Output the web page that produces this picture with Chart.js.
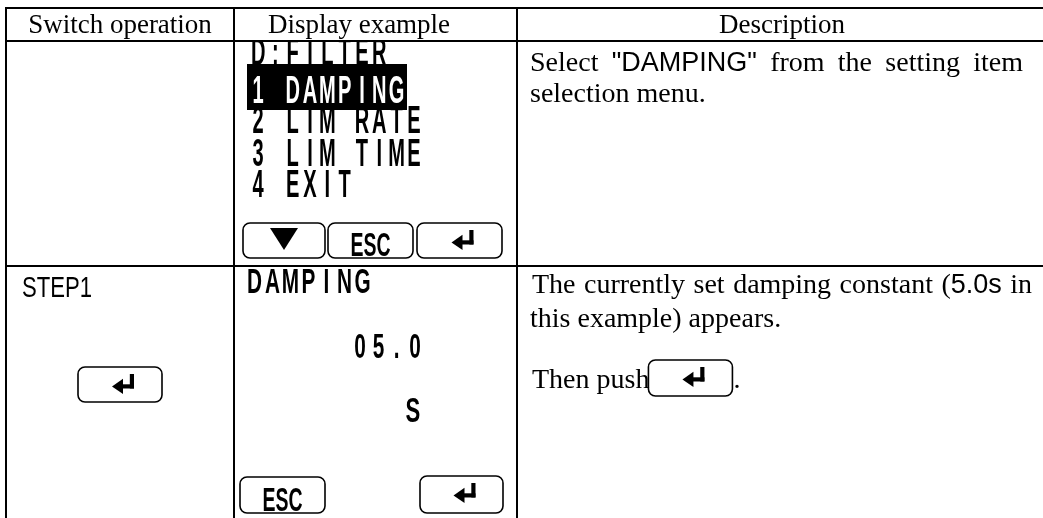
<!DOCTYPE html>
<html>
<head>
<meta charset="utf-8">
<title>DAMPING setting</title>
<script src="https://cdn.jsdelivr.net/npm/chart.js@4.4.0/dist/chart.umd.min.js"></script>
<style>
  html, body { margin: 0; padding: 0; background: #fff; overflow: hidden; }
  canvas { display: block; }
</style>
</head>
<body>
<canvas id="sheet" width="1043" height="518"></canvas>
<script>
/* ── table content ─────────────────────────────────────────────── */
const headers = ["Switch operation", "Display example", "Description"];

// row 1 : setting item menu
const menuLines = ["D:FILTER", "1 DAMPING", "2 LIM RATE", "3 LIM TIME", "4 EXIT"];
const menuSelected = 1;
const menuKeys = ["down", "ESC", "enter"];
const row1Desc = ['Select |"DAMPING"| from the setting item', "selection menu."];

// row 2 : STEP1
const step1Label = "STEP1";
const step1Display = ["DAMPING", "05.0", "S"];
const step1Keys = ["ESC", "enter"];
const row2Desc = ["The currently set damping constant (|5.0s| in", "this example) appears.", "Then push"];

/* ── fonts ─────────────────────────────────────────────────────── */
const SERIF = '"Liberation Serif", "Times New Roman", serif';
const SANS = '"Liberation Sans", Arial, sans-serif';
const LCD = '"Liberation Sans", Arial, sans-serif';

let X = v => v, Y = v => v;

function fitText(ctx, str, x, base, w, font, align) {
    ctx.save();
    ctx.font = font;
    const nat = ctx.measureText(str).width;
    const left = align === "center" ? x - w / 2 : x;
    ctx.translate(X(left), Y(base));
    ctx.scale(w / nat, 1);
    ctx.fillText(str, 0, 0);
    ctx.restore();
}

// monospaced LCD style characters, each squeezed to glyph width gw
function lcdText(ctx, str, x, base, pitch, size, gw, color) {
    ctx.save();
    ctx.font = `bold ${size}px ${LCD}`;
    ctx.fillStyle = color || "#000";
    const sx = gw / ctx.measureText("D").width;
    [...str].forEach((ch, i) => {
        if (ch === " ") return;
        const w = ctx.measureText(ch).width * sx;
        const cx = x + i * pitch + pitch / 2;
        ctx.save();
        ctx.translate(X(cx - w / 2), Y(base));
        ctx.scale(sx, 1);
        ctx.fillText(ch, 0, 0);
        ctx.restore();
    });
    ctx.restore();
}

// words in |bars| are set in the sans face, the rest in serif
function richLine(ctx, markup, x, base, justifyTo) {
    const serifFont = `28px ${SERIF}`, sansFont = `27px ${SANS}`;
    const words = markup.split(" ").map(w =>
        w.split("|").map((seg, i) => ({ seg, font: i % 2 ? sansFont : serifFont })).filter(p => p.seg));
    const widths = words.map(parts => parts.reduce((a, p) => {
        ctx.font = p.font;
        return a + ctx.measureText(p.seg).width;
    }, 0));
    ctx.font = serifFont;
    let gap = ctx.measureText(" ").width;
    if (justifyTo) gap = (justifyTo - x - widths.reduce((a, b) => a + b, 0)) / (words.length - 1);
    let cx = x;
    words.forEach(parts => {
        parts.forEach(p => {
            ctx.font = p.font;
            ctx.fillText(p.seg, X(cx), Y(base));
            cx += ctx.measureText(p.seg).width;
        });
        cx += gap;
    });
    return cx - gap;
}

function keyBox(ctx, x, y, w, h) {
    ctx.save();
    ctx.lineWidth = 1.6;
    ctx.strokeStyle = "#000";
    ctx.beginPath();
    ctx.roundRect(X(x), Y(y), w, h, 7);
    ctx.stroke();
    ctx.restore();
}

function enterIcon(ctx, x, y, w, h) {
    const t = Math.max(3.5, w * 0.19);
    const cy = y + h * 0.62;
    ctx.fillRect(X(x + w - t), Y(y), t, cy + t / 2 - y);
    ctx.fillRect(X(x + w * 0.42), Y(cy - t / 2), w * 0.58, t);
    ctx.beginPath();
    ctx.moveTo(X(x), Y(cy));
    ctx.lineTo(X(x + w * 0.5), Y(cy - h * 0.38));
    ctx.lineTo(X(x + w * 0.5), Y(cy + h * 0.38));
    ctx.closePath();
    ctx.fill();
}

function drawKey(ctx, key, x, y, w, h) {
    keyBox(ctx, x, y, w, h);
    if (key === "enter") {
        enterIcon(ctx, x + w / 2 - 8, y + 7, 22, 20);
    } else if (key === "down") {
        ctx.beginPath();
        ctx.moveTo(X(x + w / 2 - 14), Y(y + 5));
        ctx.lineTo(X(x + w / 2 + 14), Y(y + 5));
        ctx.lineTo(X(x + w / 2), Y(y + 27));
        ctx.closePath();
        ctx.fill();
    } else {
        fitText(ctx, key, x + w / 2, y + h - 2, 40, `bold 33px ${LCD}`, "center");
    }
}

const tablePlugin = {
    id: "manualTable",
    afterDraw(chart) {
        const ctx = chart.ctx;
        const xs = chart.scales.x, ys = chart.scales.y;
        X = v => xs.getPixelForValue(v);
        Y = v => ys.getPixelForValue(v);

        ctx.save();
        ctx.fillStyle = "#fff";
        ctx.fillRect(0, 0, chart.width, chart.height);
        ctx.fillStyle = "#000";
        ctx.textBaseline = "alphabetic";
        ctx.textAlign = "left";

        // header
        ctx.font = `27px ${SERIF}`;
        ctx.textAlign = "center";
        [120, 359, 782].forEach((cx, i) => ctx.fillText(headers[i], X(cx), Y(33)));
        ctx.textAlign = "left";

        // row 1 display: setting menu
        ctx.save();
        ctx.beginPath();
        ctx.rect(X(235), Y(42), 281, 223);
        ctx.clip();
        const menuBase = [65, 103, 133, 166, 197];
        menuLines.forEach((s, i) => {
            if (i !== menuSelected) lcdText(ctx, s, 249.5, menuBase[i], 17.3, 38, 14.5);
        });
        ctx.fillRect(X(247), Y(64), 160, 46);
        lcdText(ctx, menuLines[menuSelected], 249.5, menuBase[menuSelected], 17.3, 38, 14.5, "#fff");
        const keyX = [[243, 82], [328, 85], [417, 85]];
        menuKeys.forEach((k, i) => drawKey(ctx, k, keyX[i][0], 223, keyX[i][1], 35));
        ctx.restore();

        // row 1 description
        richLine(ctx, row1Desc[0], 530, 71, 1023);
        richLine(ctx, row1Desc[1], 530, 102);

        // row 2 switch operation
        fitText(ctx, step1Label, 22, 297, 70, `30px ${SANS}`);
        drawKey(ctx, "enter", 78, 367, 84, 35);

        // row 2 display
        ctx.save();
        ctx.beginPath();
        ctx.rect(X(235), Y(267), 281, 251);
        ctx.clip();
        lcdText(ctx, step1Display[0], 245.5, 293, 18, 35, 15);
        lcdText(ctx, step1Display[1], 351, 358, 18.3, 35, 15);
        lcdText(ctx, step1Display[2], 404, 422, 18, 35, 16);
        drawKey(ctx, step1Keys[0], 240, 477, 85, 36);
        drawKey(ctx, step1Keys[1], 420, 476, 83, 37);
        ctx.restore();

        // row 2 description
        richLine(ctx, row2Desc[0], 532, 293, 1032);
        richLine(ctx, row2Desc[1], 530, 327);
        const end = richLine(ctx, row2Desc[2], 532, 388);
        drawKey(ctx, "enter", end - 1, 360, 84, 36);
        ctx.font = `28px ${SERIF}`;
        ctx.fillText(".", X(end + 84), Y(388));

        // rules
        ctx.fillRect(X(5), Y(7), 1038, 2);
        ctx.fillRect(X(5), Y(40), 1038, 2);
        ctx.fillRect(X(5), Y(265), 1038, 2);
        [5, 233, 516].forEach(x => ctx.fillRect(X(x), Y(7), 2, 511));
        ctx.restore();
    }
};

new Chart(document.getElementById("sheet"), {
    type: "scatter",
    data: { datasets: [{ data: [] }] },
    options: {
        responsive: false,
        animation: false,
        layout: { padding: 0 },
        plugins: { legend: { display: false }, tooltip: { enabled: false } },
        scales: {
            x: { type: "linear", min: 0, max: 1043, display: false },
            y: { type: "linear", min: 0, max: 518, reverse: true, display: false }
        }
    },
    plugins: [tablePlugin]
});
</script>
</body>
</html>
